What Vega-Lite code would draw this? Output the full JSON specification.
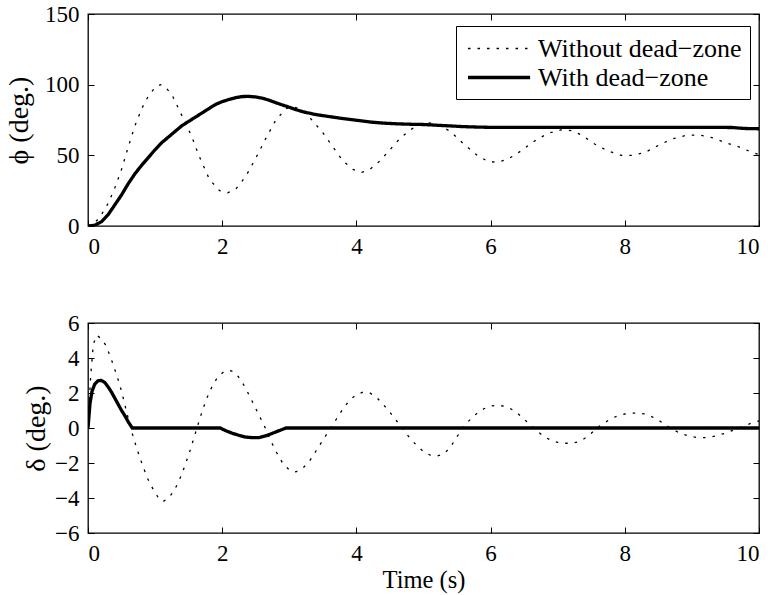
{
  "$schema": "https://vega.github.io/schema/vega-lite/v6.json",
  "background": "white",
  "padding": {"left": 4, "top": 2, "right": 2, "bottom": 2},
  "bounds": "flush",
  "spacing": 97,
  "config": {
    "font": "Liberation Serif",
    "view": {"stroke": "black", "strokeWidth": 1.3},
    "axis": {
      "grid": false, "domain": false, "tickColor": "black", "tickSize": -6, "tickWidth": 1,
      "labelFont": "Liberation Serif", "labelFontSize": 23, "labelColor": "black",
      "titleFont": "Liberation Serif", "titleFontSize": 24.5, "titleColor": "black", "titleFontWeight": "normal"
    },
    "axisX": {"labelPadding": 15},
    "axisY": {"labelPadding": 15, "titleFontSize": 28},
    "legend": {"labelFont": "Liberation Serif"}
  },
  "datasets": {
    "phi": [
      {"t":0,"v":0,"series":"Without dead−zone"},{"t":0.1,"v":2,"series":"Without dead−zone"},{"t":0.2,"v":8,"series":"Without dead−zone"},{"t":0.3,"v":16,"series":"Without dead−zone"},{"t":0.4,"v":27,"series":"Without dead−zone"},{"t":0.5,"v":40,"series":"Without dead−zone"},{"t":0.6,"v":56,"series":"Without dead−zone"},{"t":0.7,"v":71,"series":"Without dead−zone"},{"t":0.8,"v":83,"series":"Without dead−zone"},{"t":0.9,"v":92,"series":"Without dead−zone"},{"t":1.0,"v":98,"series":"Without dead−zone"},{"t":1.08,"v":100,"series":"Without dead−zone"},{"t":1.16,"v":98,"series":"Without dead−zone"},{"t":1.26,"v":92,"series":"Without dead−zone"},{"t":1.39,"v":79,"series":"Without dead−zone"},{"t":1.54,"v":64,"series":"Without dead−zone"},{"t":1.66,"v":49,"series":"Without dead−zone"},{"t":1.81,"v":33,"series":"Without dead−zone"},{"t":1.96,"v":25,"series":"Without dead−zone"},{"t":2.08,"v":23.5,"series":"Without dead−zone"},{"t":2.2,"v":26,"series":"Without dead−zone"},{"t":2.35,"v":35,"series":"Without dead−zone"},{"t":2.5,"v":48,"series":"Without dead−zone"},{"t":2.65,"v":62,"series":"Without dead−zone"},{"t":2.8,"v":75,"series":"Without dead−zone"},{"t":2.95,"v":83,"series":"Without dead−zone"},{"t":3.05,"v":84.5,"series":"Without dead−zone"},{"t":3.15,"v":83,"series":"Without dead−zone"},{"t":3.3,"v":77,"series":"Without dead−zone"},{"t":3.5,"v":66,"series":"Without dead−zone"},{"t":3.65,"v":56,"series":"Without dead−zone"},{"t":3.8,"v":46,"series":"Without dead−zone"},{"t":3.95,"v":40,"series":"Without dead−zone"},{"t":4.08,"v":38,"series":"Without dead−zone"},{"t":4.2,"v":40,"series":"Without dead−zone"},{"t":4.35,"v":46,"series":"Without dead−zone"},{"t":4.5,"v":54,"series":"Without dead−zone"},{"t":4.65,"v":62,"series":"Without dead−zone"},{"t":4.8,"v":68,"series":"Without dead−zone"},{"t":4.95,"v":72,"series":"Without dead−zone"},{"t":5.08,"v":73,"series":"Without dead−zone"},{"t":5.2,"v":72,"series":"Without dead−zone"},{"t":5.4,"v":67,"series":"Without dead−zone"},{"t":5.6,"v":58,"series":"Without dead−zone"},{"t":5.8,"v":50,"series":"Without dead−zone"},{"t":5.95,"v":46,"series":"Without dead−zone"},{"t":6.08,"v":45,"series":"Without dead−zone"},{"t":6.25,"v":47,"series":"Without dead−zone"},{"t":6.45,"v":53,"series":"Without dead−zone"},{"t":6.65,"v":60,"series":"Without dead−zone"},{"t":6.85,"v":65.5,"series":"Without dead−zone"},{"t":7.05,"v":68,"series":"Without dead−zone"},{"t":7.2,"v":67.5,"series":"Without dead−zone"},{"t":7.35,"v":64.5,"series":"Without dead−zone"},{"t":7.55,"v":58,"series":"Without dead−zone"},{"t":7.75,"v":53,"series":"Without dead−zone"},{"t":7.95,"v":50,"series":"Without dead−zone"},{"t":8.12,"v":50,"series":"Without dead−zone"},{"t":8.3,"v":52,"series":"Without dead−zone"},{"t":8.5,"v":57,"series":"Without dead−zone"},{"t":8.7,"v":61.5,"series":"Without dead−zone"},{"t":8.9,"v":64,"series":"Without dead−zone"},{"t":9.1,"v":64.5,"series":"Without dead−zone"},{"t":9.3,"v":62.5,"series":"Without dead−zone"},{"t":9.5,"v":59,"series":"Without dead−zone"},{"t":9.7,"v":56,"series":"Without dead−zone"},{"t":9.85,"v":53,"series":"Without dead−zone"},{"t":10,"v":50.5,"series":"Without dead−zone"},
      {"t":0,"v":0,"series":"With dead−zone"},{"t":0.1,"v":0.5,"series":"With dead−zone"},{"t":0.2,"v":3,"series":"With dead−zone"},{"t":0.3,"v":8,"series":"With dead−zone"},{"t":0.4,"v":15,"series":"With dead−zone"},{"t":0.5,"v":22,"series":"With dead−zone"},{"t":0.6,"v":30,"series":"With dead−zone"},{"t":0.7,"v":37,"series":"With dead−zone"},{"t":0.8,"v":43,"series":"With dead−zone"},{"t":0.9,"v":48.5,"series":"With dead−zone"},{"t":1.0,"v":54,"series":"With dead−zone"},{"t":1.1,"v":59,"series":"With dead−zone"},{"t":1.2,"v":63,"series":"With dead−zone"},{"t":1.3,"v":67,"series":"With dead−zone"},{"t":1.4,"v":71,"series":"With dead−zone"},{"t":1.5,"v":74,"series":"With dead−zone"},{"t":1.6,"v":77,"series":"With dead−zone"},{"t":1.7,"v":80,"series":"With dead−zone"},{"t":1.8,"v":83,"series":"With dead−zone"},{"t":1.9,"v":86,"series":"With dead−zone"},{"t":2.0,"v":88,"series":"With dead−zone"},{"t":2.1,"v":89.5,"series":"With dead−zone"},{"t":2.2,"v":90.8,"series":"With dead−zone"},{"t":2.3,"v":91.6,"series":"With dead−zone"},{"t":2.4,"v":91.7,"series":"With dead−zone"},{"t":2.5,"v":91.3,"series":"With dead−zone"},{"t":2.6,"v":90.4,"series":"With dead−zone"},{"t":2.7,"v":89,"series":"With dead−zone"},{"t":2.8,"v":87.2,"series":"With dead−zone"},{"t":2.9,"v":85.6,"series":"With dead−zone"},{"t":3.0,"v":84,"series":"With dead−zone"},{"t":3.1,"v":82.3,"series":"With dead−zone"},{"t":3.2,"v":80.9,"series":"With dead−zone"},{"t":3.3,"v":79.8,"series":"With dead−zone"},{"t":3.4,"v":78.8,"series":"With dead−zone"},{"t":3.6,"v":77.4,"series":"With dead−zone"},{"t":3.8,"v":76,"series":"With dead−zone"},{"t":4.0,"v":74.8,"series":"With dead−zone"},{"t":4.2,"v":73.6,"series":"With dead−zone"},{"t":4.4,"v":72.8,"series":"With dead−zone"},{"t":4.6,"v":72.3,"series":"With dead−zone"},{"t":4.8,"v":72,"series":"With dead−zone"},{"t":5.0,"v":71.8,"series":"With dead−zone"},{"t":5.2,"v":71.3,"series":"With dead−zone"},{"t":5.4,"v":70.8,"series":"With dead−zone"},{"t":5.6,"v":70.3,"series":"With dead−zone"},{"t":5.8,"v":70,"series":"With dead−zone"},{"t":6.0,"v":69.8,"series":"With dead−zone"},{"t":7.0,"v":69.8,"series":"With dead−zone"},{"t":8.0,"v":69.8,"series":"With dead−zone"},{"t":9.0,"v":69.8,"series":"With dead−zone"},{"t":9.6,"v":69.7,"series":"With dead−zone"},{"t":9.7,"v":69.3,"series":"With dead−zone"},{"t":9.8,"v":69,"series":"With dead−zone"},{"t":10,"v":68.8,"series":"With dead−zone"}
    ],
    "delta": [
      {"t":0,"v":0,"series":"Without dead−zone"},{"t":0.04,"v":3,"series":"Without dead−zone"},{"t":0.08,"v":4.8,"series":"Without dead−zone"},{"t":0.13,"v":5.3,"series":"Without dead−zone"},{"t":0.2,"v":5.1,"series":"Without dead−zone"},{"t":0.27,"v":4.7,"series":"Without dead−zone"},{"t":0.35,"v":3.9,"series":"Without dead−zone"},{"t":0.43,"v":3.0,"series":"Without dead−zone"},{"t":0.5,"v":2.1,"series":"Without dead−zone"},{"t":0.57,"v":1.0,"series":"Without dead−zone"},{"t":0.65,"v":-0.2,"series":"Without dead−zone"},{"t":0.73,"v":-1.2,"series":"Without dead−zone"},{"t":0.81,"v":-2.1,"series":"Without dead−zone"},{"t":0.89,"v":-2.9,"series":"Without dead−zone"},{"t":0.97,"v":-3.5,"series":"Without dead−zone"},{"t":1.05,"v":-4.0,"series":"Without dead−zone"},{"t":1.12,"v":-4.2,"series":"Without dead−zone"},{"t":1.2,"v":-4.0,"series":"Without dead−zone"},{"t":1.28,"v":-3.6,"series":"Without dead−zone"},{"t":1.36,"v":-3.0,"series":"Without dead−zone"},{"t":1.44,"v":-2.2,"series":"Without dead−zone"},{"t":1.52,"v":-1.3,"series":"Without dead−zone"},{"t":1.6,"v":-0.3,"series":"Without dead−zone"},{"t":1.68,"v":0.7,"series":"Without dead−zone"},{"t":1.76,"v":1.6,"series":"Without dead−zone"},{"t":1.84,"v":2.3,"series":"Without dead−zone"},{"t":1.93,"v":2.9,"series":"Without dead−zone"},{"t":2.02,"v":3.2,"series":"Without dead−zone"},{"t":2.1,"v":3.3,"series":"Without dead−zone"},{"t":2.18,"v":3.2,"series":"Without dead−zone"},{"t":2.27,"v":2.8,"series":"Without dead−zone"},{"t":2.36,"v":2.2,"series":"Without dead−zone"},{"t":2.45,"v":1.5,"series":"Without dead−zone"},{"t":2.54,"v":0.8,"series":"Without dead−zone"},{"t":2.63,"v":0.1,"series":"Without dead−zone"},{"t":2.72,"v":-0.7,"series":"Without dead−zone"},{"t":2.81,"v":-1.4,"series":"Without dead−zone"},{"t":2.9,"v":-2.0,"series":"Without dead−zone"},{"t":3.0,"v":-2.4,"series":"Without dead−zone"},{"t":3.1,"v":-2.5,"series":"Without dead−zone"},{"t":3.2,"v":-2.3,"series":"Without dead−zone"},{"t":3.3,"v":-1.9,"series":"Without dead−zone"},{"t":3.4,"v":-1.3,"series":"Without dead−zone"},{"t":3.5,"v":-0.7,"series":"Without dead−zone"},{"t":3.6,"v":-0.1,"series":"Without dead−zone"},{"t":3.7,"v":0.5,"series":"Without dead−zone"},{"t":3.8,"v":1.1,"series":"Without dead−zone"},{"t":3.9,"v":1.6,"series":"Without dead−zone"},{"t":4.0,"v":1.9,"series":"Without dead−zone"},{"t":4.1,"v":2.05,"series":"Without dead−zone"},{"t":4.2,"v":2.0,"series":"Without dead−zone"},{"t":4.3,"v":1.75,"series":"Without dead−zone"},{"t":4.4,"v":1.35,"series":"Without dead−zone"},{"t":4.5,"v":0.9,"series":"Without dead−zone"},{"t":4.6,"v":0.4,"series":"Without dead−zone"},{"t":4.7,"v":-0.1,"series":"Without dead−zone"},{"t":4.8,"v":-0.6,"series":"Without dead−zone"},{"t":4.9,"v":-1.0,"series":"Without dead−zone"},{"t":5.0,"v":-1.35,"series":"Without dead−zone"},{"t":5.1,"v":-1.55,"series":"Without dead−zone"},{"t":5.2,"v":-1.6,"series":"Without dead−zone"},{"t":5.3,"v":-1.5,"series":"Without dead−zone"},{"t":5.4,"v":-1.1,"series":"Without dead−zone"},{"t":5.5,"v":-0.5,"series":"Without dead−zone"},{"t":5.6,"v":0.1,"series":"Without dead−zone"},{"t":5.7,"v":0.5,"series":"Without dead−zone"},{"t":5.8,"v":0.85,"series":"Without dead−zone"},{"t":5.9,"v":1.1,"series":"Without dead−zone"},{"t":6.0,"v":1.25,"series":"Without dead−zone"},{"t":6.1,"v":1.3,"series":"Without dead−zone"},{"t":6.2,"v":1.25,"series":"Without dead−zone"},{"t":6.3,"v":1.1,"series":"Without dead−zone"},{"t":6.4,"v":0.85,"series":"Without dead−zone"},{"t":6.5,"v":0.5,"series":"Without dead−zone"},{"t":6.6,"v":0.15,"series":"Without dead−zone"},{"t":6.7,"v":-0.2,"series":"Without dead−zone"},{"t":6.8,"v":-0.5,"series":"Without dead−zone"},{"t":6.9,"v":-0.7,"series":"Without dead−zone"},{"t":7.0,"v":-0.82,"series":"Without dead−zone"},{"t":7.1,"v":-0.87,"series":"Without dead−zone"},{"t":7.2,"v":-0.87,"series":"Without dead−zone"},{"t":7.3,"v":-0.8,"series":"Without dead−zone"},{"t":7.4,"v":-0.6,"series":"Without dead−zone"},{"t":7.5,"v":-0.3,"series":"Without dead−zone"},{"t":7.6,"v":0.05,"series":"Without dead−zone"},{"t":7.7,"v":0.3,"series":"Without dead−zone"},{"t":7.8,"v":0.55,"series":"Without dead−zone"},{"t":7.9,"v":0.7,"series":"Without dead−zone"},{"t":8.0,"v":0.8,"series":"Without dead−zone"},{"t":8.1,"v":0.85,"series":"Without dead−zone"},{"t":8.2,"v":0.85,"series":"Without dead−zone"},{"t":8.3,"v":0.8,"series":"Without dead−zone"},{"t":8.4,"v":0.65,"series":"Without dead−zone"},{"t":8.5,"v":0.45,"series":"Without dead−zone"},{"t":8.6,"v":0.2,"series":"Without dead−zone"},{"t":8.7,"v":-0.05,"series":"Without dead−zone"},{"t":8.8,"v":-0.25,"series":"Without dead−zone"},{"t":8.9,"v":-0.4,"series":"Without dead−zone"},{"t":9.0,"v":-0.5,"series":"Without dead−zone"},{"t":9.1,"v":-0.55,"series":"Without dead−zone"},{"t":9.2,"v":-0.55,"series":"Without dead−zone"},{"t":9.3,"v":-0.5,"series":"Without dead−zone"},{"t":9.4,"v":-0.4,"series":"Without dead−zone"},{"t":9.5,"v":-0.3,"series":"Without dead−zone"},{"t":9.6,"v":-0.15,"series":"Without dead−zone"},{"t":9.7,"v":0.0,"series":"Without dead−zone"},{"t":9.8,"v":0.15,"series":"Without dead−zone"},{"t":9.9,"v":0.3,"series":"Without dead−zone"},{"t":10,"v":0.4,"series":"Without dead−zone"},
      {"t":0,"v":0,"series":"With dead−zone"},{"t":0.03,"v":1.4,"series":"With dead−zone"},{"t":0.06,"v":2.1,"series":"With dead−zone"},{"t":0.1,"v":2.5,"series":"With dead−zone"},{"t":0.15,"v":2.7,"series":"With dead−zone"},{"t":0.2,"v":2.72,"series":"With dead−zone"},{"t":0.25,"v":2.6,"series":"With dead−zone"},{"t":0.3,"v":2.35,"series":"With dead−zone"},{"t":0.35,"v":2.05,"series":"With dead−zone"},{"t":0.4,"v":1.7,"series":"With dead−zone"},{"t":0.45,"v":1.35,"series":"With dead−zone"},{"t":0.5,"v":1.0,"series":"With dead−zone"},{"t":0.55,"v":0.7,"series":"With dead−zone"},{"t":0.6,"v":0.35,"series":"With dead−zone"},{"t":0.66,"v":0,"series":"With dead−zone"},{"t":1.97,"v":0,"series":"With dead−zone"},{"t":2.05,"v":-0.15,"series":"With dead−zone"},{"t":2.15,"v":-0.3,"series":"With dead−zone"},{"t":2.25,"v":-0.42,"series":"With dead−zone"},{"t":2.35,"v":-0.52,"series":"With dead−zone"},{"t":2.45,"v":-0.55,"series":"With dead−zone"},{"t":2.55,"v":-0.55,"series":"With dead−zone"},{"t":2.65,"v":-0.45,"series":"With dead−zone"},{"t":2.75,"v":-0.3,"series":"With dead−zone"},{"t":2.85,"v":-0.15,"series":"With dead−zone"},{"t":2.95,"v":0,"series":"With dead−zone"},{"t":10,"v":0,"series":"With dead−zone"}
    ]
  },
  "vconcat": [
    {
      "width": 671, "height": 212,
      "data": {"name": "phi"},
      "layer": [
        {
          "mark": {"type": "line", "color": "black", "strokeCap": "butt", "clip": true},
          "encoding": {
            "x": {"field": "t", "type": "quantitative", "scale": {"domain": [0, 10], "nice": false}, "axis": {"values": [0, 2, 4, 6, 8, 10], "title": null}},
            "y": {"field": "v", "type": "quantitative", "scale": {"domain": [0, 150], "nice": false}, "axis": {"values": [0, 50, 100, 150], "title": "ϕ (deg.)", "titlePadding": 11}},
            "strokeDash": {"field": "series", "type": "nominal", "scale": {"domain": ["Without dead−zone", "With dead−zone"], "range": [[2.5, 7], [1, 0]]},
              "legend": {"orient": "none", "legendX": 368, "legendY": 12, "title": null, "strokeColor": "black", "fillColor": "white", "padding": 8, "labelFontSize": 26, "labelColor": "black", "labelLimit": 0, "symbolType": "M-0.85,0H3.75", "symbolSize": 729, "symbolStrokeColor": "black", "symbolFillColor": "transparent", "rowPadding": 0, "labelOffset": 43, "cornerRadius": 0}},
            "strokeWidth": {"field": "series", "type": "nominal", "scale": {"domain": ["Without dead−zone", "With dead−zone"], "range": [1.3, 3.3]},
              "legend": {"orient": "none", "legendX": 368, "legendY": 12, "title": null, "strokeColor": "black", "fillColor": "white", "padding": 8, "labelFontSize": 26, "labelColor": "black", "labelLimit": 0, "symbolType": "M-0.85,0H3.75", "symbolSize": 729, "symbolStrokeColor": "black", "symbolFillColor": "transparent", "rowPadding": 0, "labelOffset": 43, "cornerRadius": 0}}
          }
        },
        {
          "mark": {"type": "line", "opacity": 0},
          "encoding": {
            "x": {"field": "t", "type": "quantitative", "axis": {"orient": "top", "values": [0, 2, 4, 6, 8, 10], "labels": false, "title": null}},
            "y": {"field": "v", "type": "quantitative", "axis": {"orient": "right", "values": [0, 50, 100, 150], "labels": false, "title": null}},
            "detail": {"field": "series"}
          }
        }
      ],
      "resolve": {"axis": {"x": "independent", "y": "independent"}}
    },
    {
      "width": 671, "height": 210,
      "data": {"name": "delta"},
      "layer": [
        {
          "mark": {"type": "line", "color": "black", "strokeCap": "butt", "clip": true},
          "encoding": {
            "x": {"field": "t", "type": "quantitative", "scale": {"domain": [0, 10], "nice": false}, "axis": {"values": [0, 2, 4, 6, 8, 10], "title": "Time (s)", "titlePadding": 3}},
            "y": {"field": "v", "type": "quantitative", "scale": {"domain": [-6, 6], "nice": false}, "axis": {"values": [-6, -4, -2, 0, 2, 4, 6], "title": "δ (deg.)", "titlePadding": 4}},
            "strokeDash": {"field": "series", "type": "nominal", "scale": {"domain": ["Without dead−zone", "With dead−zone"], "range": [[2.5, 7], [1, 0]]}, "legend": null},
            "strokeWidth": {"field": "series", "type": "nominal", "scale": {"domain": ["Without dead−zone", "With dead−zone"], "range": [1.3, 3.3]}, "legend": null}
          }
        },
        {
          "mark": {"type": "line", "opacity": 0},
          "encoding": {
            "x": {"field": "t", "type": "quantitative", "axis": {"orient": "top", "values": [0, 2, 4, 6, 8, 10], "labels": false, "title": null}},
            "y": {"field": "v", "type": "quantitative", "axis": {"orient": "right", "values": [-6, -4, -2, 0, 2, 4, 6], "labels": false, "title": null}},
            "detail": {"field": "series"}
          }
        }
      ],
      "resolve": {"axis": {"x": "independent", "y": "independent"}}
    }
  ],
  "resolve": {"legend": {"strokeDash": "independent", "strokeWidth": "independent"}}
}
